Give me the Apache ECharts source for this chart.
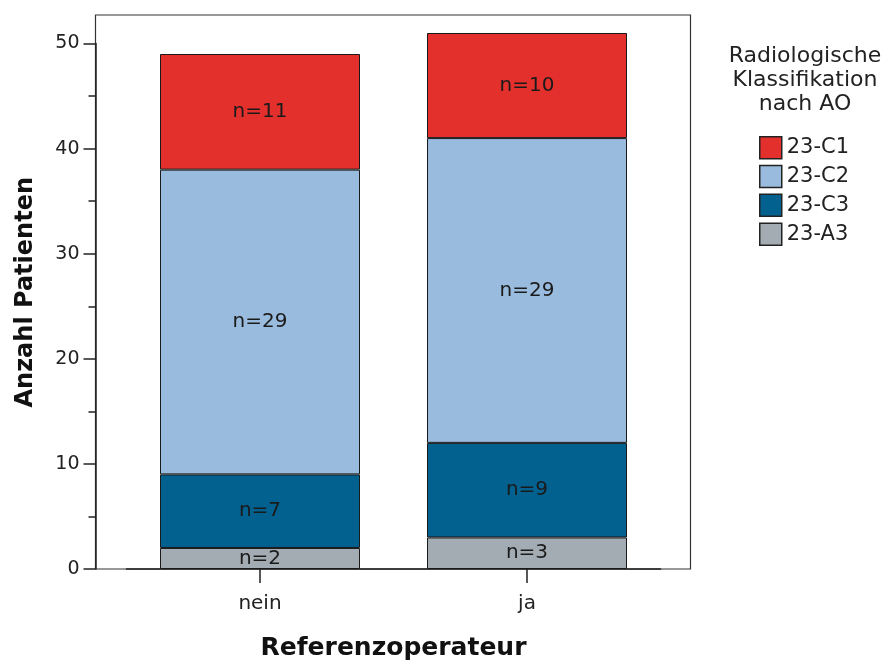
<!DOCTYPE html>
<html>
<head>
<meta charset="utf-8">
<script src="https://cdn.jsdelivr.net/npm/echarts@6/dist/echarts.min.js"></script>
<style>html,body{margin:0;padding:0;background:#fff}#c{width:888px;height:662px}</style>
</head>
<body>
<div id="c"></div>
<script>
var categories = ['nein', 'ja'];
var seriesNames = ['23-A3', '23-C3', '23-C2', '23-C1'];
var valuesA3 = [2, 3];
var valuesC3 = [7, 9];
var valuesC2 = [29, 29];
var valuesC1 = [11, 10];
var yTicks = [0, 10, 20, 30, 40, 50];
var legendOrder = ['23-C1', '23-C2', '23-C3', '23-A3'];

var colors = {'23-A3': '#a3acb2', '23-C3': '#02618e', '23-C2': '#99bbdd', '23-C1': '#e3302d'};
var dataMap = {'23-A3': valuesA3, '23-C3': valuesC3, '23-C2': valuesC2, '23-C1': valuesC1};
var FONT = 'DejaVu Sans';

var chart = echarts.init(document.getElementById('c'), null, {renderer: 'canvas'});
var series = seriesNames.map(function (name) {
  return {
    name: name,
    type: 'bar',
    stack: 'total',
    xAxisIndex: 1,
    yAxisIndex: 1,
    barWidth: 200,
    clip: false,
    data: dataMap[name],
    itemStyle: {color: colors[name], borderColor: '#1a1a1a', borderWidth: 1},
    label: {
      show: true, position: 'inside', color: '#1a1a1a', fontFamily: FONT, fontSize: 20,
      formatter: function (p) { return 'n=' + p.value; }
    },
    emphasis: {disabled: true}
  };
});

chart.setOption({
  animation: false,
  title: {
    text: 'Radiologische\nKlassifikation\nnach AO',
    left: 805, top: 44, textAlign: 'center', padding: 0,
    textStyle: {fontFamily: FONT, fontSize: 22, fontWeight: 'normal', color: '#222', lineHeight: 24}
  },
  legend: {
    data: legendOrder,
    orient: 'vertical', left: 759, top: 136, padding: 0,
    itemWidth: 22, itemHeight: 22, itemGap: 5.3,
    icon: 'rect',
    itemStyle: {borderColor: '#222', borderWidth: 1.5},
    textStyle: {fontFamily: FONT, fontSize: 21, color: '#222', lineHeight: 22},
    selectedMode: false
  },
  grid: [
    {left: 95.5, top: 15, width: 595, height: 554, show: true, borderColor: '#333', borderWidth: 1.2, backgroundColor: 'transparent', outerBoundsMode: 'none', containLabel: false},
    {left: 126.5, top: 43.5, width: 534, height: 525.5, outerBoundsMode: 'none', containLabel: false}
  ],
  xAxis: [
    {gridIndex: 0, type: 'value', show: false, min: 0, max: 1},
    {
      gridIndex: 1, type: 'category', data: categories,
      axisLine: {show: true, lineStyle: {color: '#222', width: 1.5}},
      axisTick: {show: true, alignWithLabel: true, length: 14, lineStyle: {color: '#222', width: 1.5}},
      axisLabel: {fontFamily: FONT, fontSize: 20, color: '#222', margin: 25},
      name: 'Referenzoperateur', nameLocation: 'middle', nameGap: 67,
      nameTextStyle: {fontFamily: FONT, fontSize: 25, fontWeight: 'bold', color: '#111'}
    }
  ],
  yAxis: [
    {gridIndex: 0, type: 'value', show: false, min: 0, max: 1},
    {
      gridIndex: 1, type: 'value', min: yTicks[0], max: yTicks[yTicks.length - 1], interval: 10,
      offset: 31,
      axisLine: {show: true, lineStyle: {color: '#222', width: 1.5}},
      axisTick: {show: true, length: 12, lineStyle: {color: '#222', width: 1.5}},
      minorTick: {show: true, splitNumber: 2, length: 7, lineStyle: {color: '#222', width: 1.5}},
      splitLine: {show: false},
      axisLabel: {fontFamily: FONT, fontSize: 19, color: '#222', margin: 16},
      name: 'Anzahl Patienten', nameLocation: 'middle', nameGap: 58,
      nameTextStyle: {fontFamily: FONT, fontSize: 24, fontWeight: 'bold', color: '#111', padding: [0, 0, 0, 28]}
    }
  ],
  series: series
});
</script>
</body>
</html>
